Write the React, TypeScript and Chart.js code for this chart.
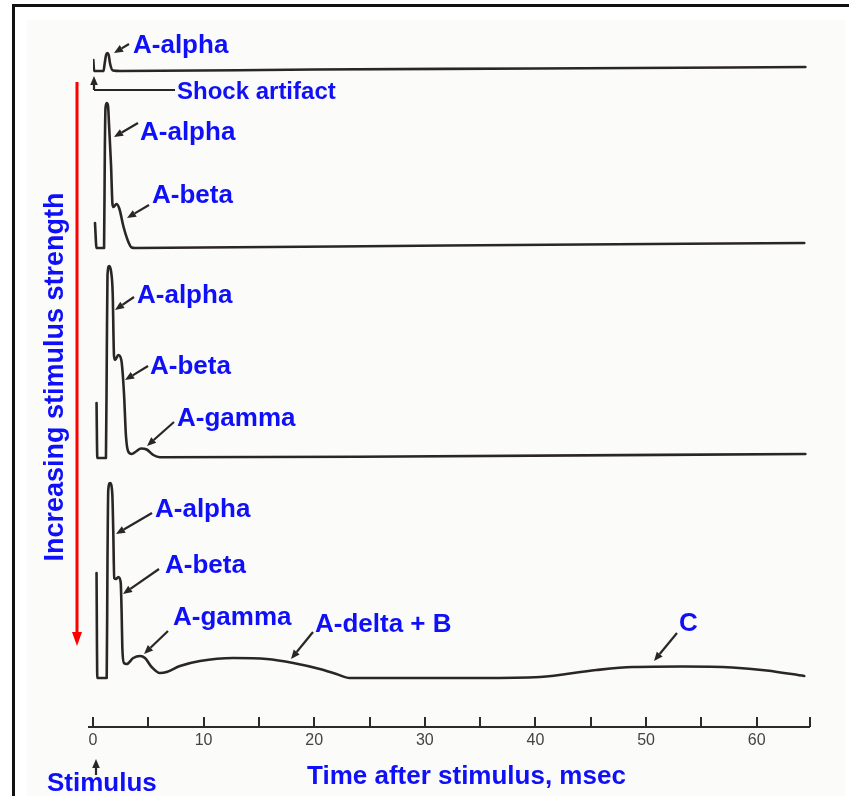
import React, { useEffect, useRef } from 'react';
import { Chart, registerables } from 'chart.js';

Chart.register(...registerables);

// ---------- data (time in msec, amplitude in arbitrary units above each trace's baseline) ----------
const TIME_MIN = 0;
const TIME_MAX = 65;
const MINOR_TICKS = [0, 5, 10, 15, 20, 25, 30, 35, 40, 45, 50, 55, 60, 65];
const LABELED_TICKS = [0, 10, 20, 30, 40, 50, 60];
const AMP_MIN = 0;
const AMP_MAX = 70.7;

// trace baselines (stacked traces, weakest stimulus on top)
const TRACE_OFFSETS = [65.6, 47.9, 26.9, 4.9];

const T1_TIME = [0.03, 0.1, 0.95, 1.05, 1.18, 1.3, 1.42, 1.55, 1.8, 2.5, 20, 40, 64.4];
const T1_AMP = [1.1, 0, 0, 0.7, 1.6, 1.8, 1.6, 0.7, 0.05, 0, 0.15, 0.25, 0.4];

const T2_TIME = [0.18, 0.32, 1.0, 1.07, 1.13, 1.24, 1.36, 1.45, 1.63, 1.76, 1.85, 2.12, 2.39, 2.74, 3.19, 3.5, 3.8, 32, 64.3];
const T2_AMP = [2.5, 0, 0, 9.8, 14.0, 14.5, 14.2, 12.3, 8.3, 4.4, 4.1, 4.4, 3.9, 2.2, 0.63, 0.05, 0, 0.25, 0.5];

const T3_TIME = [0.32, 0.39, 1.17, 1.25, 1.31, 1.47, 1.64, 1.78, 1.9, 2.0, 2.29, 2.56, 2.8, 2.98, 3.19, 3.5, 3.89, 4.34, 4.85, 5.45, 6.05, 24.1, 64.4];
const T3_AMP = [5.5, 0, 0, 10.8, 18.3, 19.2, 18.6, 16.5, 10.2, 9.8, 10.3, 9.8, 6.5, 2.2, 0.63, 0.4, 0.65, 0.95, 0.85, 0.3, 0.07, 0.13, 0.4];

const T4_TIME = [0.32, 0.39, 1.24, 1.31, 1.38, 1.54, 1.74, 1.83, 1.92, 2.08, 2.29, 2.5, 2.59, 2.65, 2.8, 3.05, 3.64, 4.25, 4.7, 5.3, 6.05, 6.66, 7.86, 9.67, 12.68, 15.7, 18.1, 20.5, 22.0, 23.2, 35.0, 40.4, 45.5, 48.8, 53.3, 57.8, 60.9, 64.3];
const T4_AMP = [10.5, 0, 0, 11.8, 18.8, 19.5, 18.5, 14.8, 10.0, 9.9, 10.1, 9.6, 6.5, 3.1, 1.5, 1.4, 2.0, 2.2, 2.0, 1.1, 0.5, 0.6, 1.2, 1.7, 2.0, 1.9, 1.5, 0.9, 0.4, 0, 0, 0.1, 0.8, 1.1, 1.15, 1.05, 0.75, 0.2];

const TRACES = [
  { time: T1_TIME, amp: T1_AMP },
  { time: T2_TIME, amp: T2_AMP },
  { time: T3_TIME, amp: T3_AMP },
  { time: T4_TIME, amp: T4_AMP },
];

const X_TITLE = 'Time after stimulus, msec';
const Y_TITLE = 'Increasing stimulus strength';
const STIMULUS_LABEL = 'Stimulus';

// ---------- annotation layout (pixels) ----------
const FONT = '"Liberation Sans", Arial, Helvetica, sans-serif';
const BLUE = '#1010f8';
const INK = '#2a2623';

const LABELS = [
  { text: 'A-alpha', x: 133, y: 53, size: 26 },
  { text: 'Shock artifact', x: 177, y: 99, size: 24 },
  { text: 'A-alpha', x: 140, y: 140, size: 26 },
  { text: 'A-beta', x: 152, y: 203, size: 26 },
  { text: 'A-alpha', x: 137, y: 303, size: 26 },
  { text: 'A-beta', x: 150, y: 374, size: 26 },
  { text: 'A-gamma', x: 177, y: 426, size: 26 },
  { text: 'A-alpha', x: 155, y: 517, size: 26 },
  { text: 'A-beta', x: 165, y: 573, size: 26 },
  { text: 'A-gamma', x: 173, y: 625, size: 26 },
  { text: 'A-delta + B', x: 315, y: 632, size: 26 },
  { text: 'C', x: 679, y: 631, size: 26 },
  { text: STIMULUS_LABEL, x: 47, y: 791, size: 26 },
  { text: X_TITLE, x: 307, y: 784, size: 26 },
];

const ARROWS = [
  [129, 44, 114, 53],
  [138, 123, 114, 137],
  [149, 205, 127, 218],
  [134, 297, 115, 310],
  [148, 366, 125, 380],
  [174, 422, 147, 446],
  [152, 513, 116, 534],
  [159, 569, 123, 594],
  [168, 631, 144, 654],
  [313, 632, 291, 659],
  [677, 633, 654, 661],
  [94, 90, 94, 76],
  [96, 775, 96, 759],
];

function drawArrow(ctx: CanvasRenderingContext2D, x1: number, y1: number, x2: number, y2: number) {
  const ang = Math.atan2(y2 - y1, x2 - x1);
  const len = 9;
  const hw = 3.8;
  const bx = x2 - Math.cos(ang) * len;
  const by = y2 - Math.sin(ang) * len;
  ctx.beginPath();
  ctx.moveTo(x1, y1);
  ctx.lineTo(bx, by);
  ctx.stroke();
  ctx.beginPath();
  ctx.moveTo(x2, y2);
  ctx.lineTo(bx + Math.sin(ang) * hw, by - Math.cos(ang) * hw);
  ctx.lineTo(bx - Math.sin(ang) * hw, by + Math.cos(ang) * hw);
  ctx.closePath();
  ctx.fill();
}

const overlayPlugin = {
  id: 'overlay',
  beforeDraw(chart: any) {
    const { ctx, width, height } = chart;
    ctx.save();
    ctx.fillStyle = '#ffffff';
    ctx.fillRect(0, 0, width, height);
    ctx.fillStyle = '#fbfbf9';
    ctx.fillRect(27, 20, 818, height - 20);
    // frame
    ctx.fillStyle = '#111';
    ctx.fillRect(12, 4, width - 12, 3);
    ctx.fillRect(12, 4, 3, height - 4);
    ctx.restore();
  },
  afterDraw(chart: any) {
    const { ctx } = chart;
    const xs = chart.scales.x;
    const axisY = chart.chartArea.bottom;
    ctx.save();
    // axis line and upward ticks
    ctx.strokeStyle = '#2b2b2b';
    ctx.lineWidth = 2;
    ctx.beginPath();
    ctx.moveTo(xs.getPixelForValue(TIME_MIN) - 5, axisY);
    ctx.lineTo(xs.getPixelForValue(TIME_MAX) - 2, axisY);
    ctx.stroke();
    MINOR_TICKS.forEach((v) => {
      const px = Math.round(xs.getPixelForValue(v === TIME_MAX ? v - 0.18 : v));
      ctx.beginPath();
      ctx.moveTo(px, axisY);
      ctx.lineTo(px, axisY - 10);
      ctx.stroke();
    });

    // shock artifact bracket
    ctx.strokeStyle = INK;
    ctx.fillStyle = INK;
    ctx.lineWidth = 2.2;
    ctx.beginPath();
    ctx.moveTo(94, 90);
    ctx.lineTo(175, 90);
    ctx.stroke();
    ARROWS.forEach(([a, b, c, d]) => drawArrow(ctx, a, b, c, d));

    // red arrow
    ctx.strokeStyle = '#ff0000';
    ctx.fillStyle = '#ff0000';
    ctx.lineWidth = 3;
    ctx.beginPath();
    ctx.moveTo(77, 82);
    ctx.lineTo(77, 634);
    ctx.stroke();
    ctx.beginPath();
    ctx.moveTo(72, 632);
    ctx.lineTo(82, 632);
    ctx.lineTo(77, 646);
    ctx.closePath();
    ctx.fill();

    // labels
    ctx.fillStyle = BLUE;
    ctx.textAlign = 'left';
    ctx.textBaseline = 'alphabetic';
    LABELS.forEach((l) => {
      ctx.font = `bold ${l.size}px ${FONT}`;
      ctx.fillText(l.text, l.x, l.y);
    });
    // vertical title
    ctx.translate(63, 377);
    ctx.rotate(-Math.PI / 2);
    ctx.textAlign = 'center';
    ctx.font = `bold 27px ${FONT}`;
    ctx.fillText(Y_TITLE, 0, 0);
    ctx.restore();
  },
};

export default function App() {
  const ref = useRef<HTMLCanvasElement | null>(null);
  useEffect(() => {
    if (!ref.current) return;
    const datasets = TRACES.map((tr, i) => ({
      label: `trace ${i + 1}`,
      data: tr.time.map((t, j) => ({ x: t, y: tr.amp[j] + TRACE_OFFSETS[i] })),
      borderColor: INK,
      borderWidth: 2.6,
      pointRadius: 0,
      fill: false,
      cubicInterpolationMode: 'monotone' as const,
      borderJoinStyle: 'round' as const,
      borderCapStyle: 'round' as const,
    }));
    const chart = new Chart(ref.current, {
      type: 'line',
      data: { datasets },
      plugins: [overlayPlugin],
      options: {
        animation: false,
        responsive: false,
        maintainAspectRatio: false,
        layout: { padding: { left: 93, right: 37, top: 20, bottom: 0 } },
        plugins: { legend: { display: false }, tooltip: { enabled: false } },
        scales: {
          x: {
            type: 'linear',
            min: TIME_MIN,
            max: TIME_MAX,
            afterBuildTicks: (s: any) => {
              s.ticks = LABELED_TICKS.map((v) => ({ value: v }));
            },
            afterFit: (s: any) => {
              s.height = 69;
            },
            grid: { display: false, drawTicks: false },
            border: { display: false },
            ticks: {
              autoSkip: false,
              maxRotation: 0,
              padding: 4,
              color: '#444',
              font: { family: FONT, size: 16 },
            },
          },
          y: { type: 'linear', min: AMP_MIN, max: AMP_MAX, display: false },
        },
      },
    });
    return () => chart.destroy();
  }, []);
  return (
    <div style={{ position: 'absolute', left: 0, top: 0, width: 849, height: 796 }}>
      <canvas ref={ref} width={849} height={796} style={{ width: 849, height: 796, display: 'block' }} />
    </div>
  );
}
